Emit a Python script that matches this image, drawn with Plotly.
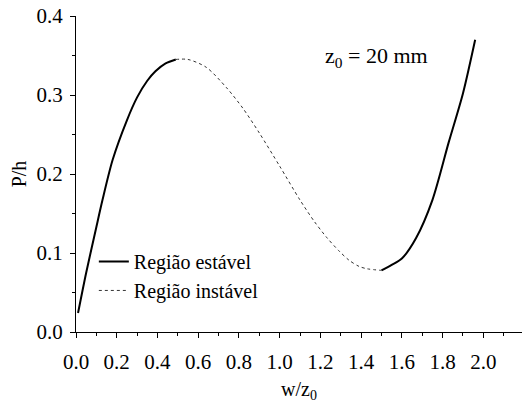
import plotly.graph_objects as go

stable1_x = [0.01, 0.05, 0.10, 0.13, 0.18, 0.25, 0.30, 0.35, 0.39, 0.44, 0.49]
stable1_y = [0.024, 0.075, 0.133, 0.167, 0.218, 0.268, 0.297, 0.318, 0.330, 0.340, 0.345]

unstable_x = [0.49, 0.55, 0.64, 0.74, 0.82, 0.90, 1.00, 1.10, 1.17, 1.23, 1.29, 1.34, 1.39, 1.43, 1.50]
unstable_y = [0.345, 0.345, 0.335, 0.309, 0.283, 0.252, 0.210, 0.167, 0.140, 0.120, 0.103, 0.091, 0.083, 0.080, 0.078]

stable2_x = [1.50, 1.55, 1.60, 1.67, 1.75, 1.83, 1.90, 1.96]
stable2_y = [0.078, 0.085, 0.093, 0.119, 0.167, 0.240, 0.302, 0.370]

x_ticks = [0.0, 0.2, 0.4, 0.6, 0.8, 1.0, 1.2, 1.4, 1.6, 1.8, 2.0]
y_ticks = [0.0, 0.1, 0.2, 0.3, 0.4]

FONT = "Liberation Serif, Times New Roman, serif"

fig = go.Figure()
fig.add_trace(go.Scatter(
    x=stable1_x + [None] + stable2_x,
    y=stable1_y + [None] + stable2_y,
    mode="lines", name="Região estável",
    line=dict(color="black", width=2, shape="spline", smoothing=0.8), connectgaps=False))
fig.add_trace(go.Scatter(
    x=unstable_x, y=unstable_y, mode="lines", name="Região instável",
    line=dict(color="#333333", width=1, dash="dot", shape="spline", smoothing=0.8)))

fig.add_annotation(x=1.475, y=0.348, xref="x", yref="y",
                   text="z<sub>0</sub> = 20 mm", showarrow=False,
                   font=dict(family=FONT, size=22, color="black"))

fig.update_layout(
    width=523, height=406,
    margin=dict(l=76, r=1, t=16, b=74),
    paper_bgcolor="white", plot_bgcolor="white",
    font=dict(family=FONT, size=20, color="black"),
    showlegend=True,
    legend=dict(x=0.04, y=0.285, xanchor="left", yanchor="top",
                bgcolor="rgba(0,0,0,0)", font=dict(family=FONT, size=20),
                itemwidth=30, tracegroupgap=0),
    xaxis=dict(range=[0, 2.19], tickvals=x_ticks,
               ticktext=[f"{v:.1f}" for v in x_ticks],
               showline=True, linecolor="black", linewidth=1,
               ticks="outside", ticklen=5, tickcolor="black",
               tickfont=dict(family=FONT, size=21), ticklabelstandoff=6,
               minor=dict(dtick=0.1, tick0=0, ticks="outside", ticklen=3, tickcolor="black"),
               showgrid=False, zeroline=False,
               title=dict(text="w/z<sub>0</sub>", font=dict(family=FONT, size=20), standoff=8)),
    yaxis=dict(range=[0, 0.4], tickvals=y_ticks,
               ticktext=[f"{v:.1f}" for v in y_ticks],
               showline=True, linecolor="black", linewidth=1,
               ticks="outside", ticklen=5, tickcolor="black",
               tickfont=dict(family=FONT, size=21), ticklabelstandoff=3,
               minor=dict(dtick=0.05, tick0=0, ticks="outside", ticklen=3, tickcolor="black"),
               showgrid=False, zeroline=False,
               title=dict(text="P/h", font=dict(family=FONT, size=20), standoff=4)),
)

fig.write_html("out.html")
